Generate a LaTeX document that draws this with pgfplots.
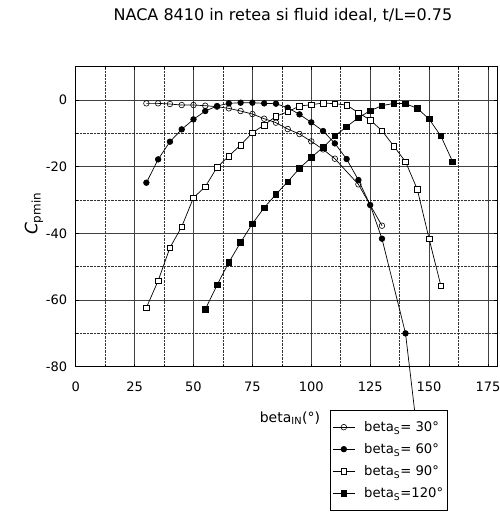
\documentclass[border=0pt]{standalone}
\usepackage{pgfplots}
\pgfplotsset{compat=1.18}
\usepackage{fontspec}
\setmainfont{DejaVu Sans}

\begin{document}
\begin{tikzpicture}
% fixed page frame around the axis
\path[use as bounding box] (-75.7pt,-147.3pt) rectangle (423.3pt,366.7pt);
\begin{axis}[
  scale only axis,
  width=421.7pt, height=300pt,
  xmin=0, xmax=179, ymin=-80, ymax=10,
  xtick={0,25,...,175},
  ytick={-80,-60,...,0},
  yticklabels={-80,-60,-40,-20,0},
  minor x tick num=1,
  minor y tick num=1,
  grid=both,
  major grid style={black!75, line width=0.5pt},
  minor grid style={black!80, densely dotted, line width=0.6pt},
  axis line style={black, line width=0.8pt},
  tick style={black, line width=0.5pt},
  major tick length=3pt, minor tick length=2pt,
  tick align=inside,
  /pgf/number format/assume math mode=true,
  tick label style={font=\fontsize{13}{15}\selectfont},
  xticklabel style={yshift=-12pt},
  yticklabel style={xshift=-5pt},
  clip=false,
  clip limits=false,
  title={NACA 8410 in retea si fluid ideal, t/L=0.75},
  title style={font=\fontsize{16}{18}\selectfont, at={(axis description cs:0.4916,1.152)}, anchor=center},
  xlabel={beta\textsubscript{IN}(°)},
  xlabel style={font=\fontsize{14}{16}\selectfont, at={(axis description cs:0.508,-0.171)}, anchor=center},
  ylabel={{\itshape C}\textsubscript{pmin}},
  ylabel style={font=\fontsize{17}{19}\selectfont, at={(axis description cs:-0.099,0.51)}, anchor=center},
  legend style={at={(axis description cs:0.603,-0.144)}, anchor=north west,
    draw=black, line width=1pt, fill=white, font=\fontsize{13.2}{15}\selectfont,
    row sep=6.5pt, inner xsep=2pt, inner ysep=9pt,
    /tikz/every odd column/.append style={column sep=7pt}},
  legend cell align=left,
  legend image code/.code={%
    \draw[mark repeat=2, mark phase=2] plot coordinates {(0pt,0pt) (11pt,0pt) (22pt,0pt)};},
  every axis plot/.append style={black, line width=0.7pt, mark size=2.8pt},
]
% beta_S = 30
\addplot[mark=o, mark options={fill=white, line width=0.6pt}] coordinates {
  (30,-1) (35,-1) (40,-1.2) (45,-1.5) (50,-1.5) (55,-1.7) (60,-2) (65,-2.5)
  (70,-3.3) (75,-4.2) (80,-5.6) (85,-6.8) (90,-8.7) (95,-10.2) (100,-12.4)
  (105,-14.8) (110,-17.6) (120,-25.3) (130,-37.7)
};
% beta_S = 60
\addplot[mark=*, mark options={fill=black}] coordinates {
  (30,-24.8) (35,-17.8) (40,-12.5) (45,-8.8) (50,-5.8) (55,-3.3) (60,-1.8)
  (65,-1) (70,-0.8) (75,-0.8) (80,-1) (85,-1.1) (90,-2.3) (95,-4.3)
  (100,-6.7) (105,-9.3) (110,-13) (115,-17.7) (120,-24) (125,-31.5)
  (130,-41.6) (140,-70) (145,-100)
};
% beta_S = 90
\addplot[mark=square*, mark options={fill=white, line width=0.6pt}] coordinates {
  (30,-62.3) (35,-54.2) (40,-44.3) (45,-38) (50,-29.3) (55,-26) (60,-20.2)
  (65,-16.8) (70,-13.5) (75,-9.8) (80,-7.5) (85,-4.9) (90,-3.5) (95,-1.8)
  (100,-1.4) (105,-0.9) (110,-1.1) (115,-1.5) (120,-3.8) (125,-6) (130,-9.2)
  (135,-13.8) (140,-18.5) (145,-26.8) (150,-41.6) (155,-55.7)
};
% beta_S = 120
\addplot[mark=square*, mark options={fill=black}] coordinates {
  (55,-62.8) (60,-55.5) (65,-48.7) (70,-42.7) (75,-37.1) (80,-32.3)
  (85,-28.3) (90,-24.5) (95,-20.5) (100,-17.2) (105,-14.2) (110,-10.8)
  (115,-8) (120,-5.3) (125,-3.2) (130,-1.7) (135,-1) (140,-1.1) (145,-2.5)
  (150,-5.7) (155,-10.8) (160,-18.5)
};
\legend{beta\textsubscript{S}= 30°, beta\textsubscript{S}= 60°, beta\textsubscript{S}= 90°, beta\textsubscript{S}=120°}
\end{axis}
\end{tikzpicture}
\end{document}
